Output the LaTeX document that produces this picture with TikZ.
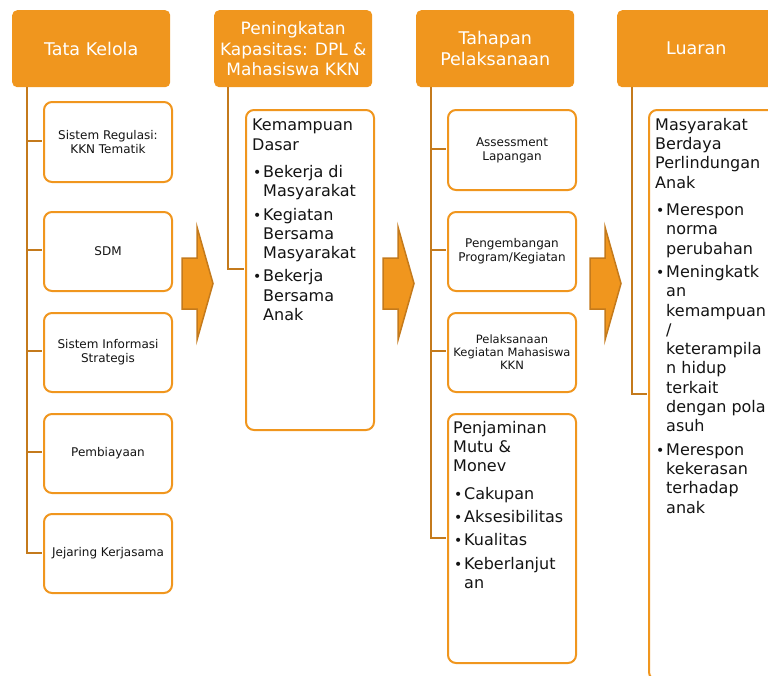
\documentclass[tikz,border=0pt]{standalone}
\usepackage{fontspec}
\setmainfont{DejaVu Sans}
\usepackage{tikz}

\definecolor{kknorange}{RGB}{240,150,30}
\definecolor{kknbrown}{RGB}{196,122,28}
\definecolor{kkntext}{RGB}{20,20,20}

\newcommand{\bul}{\makebox[11pt][l]{\hspace{1pt}\fontsize{14}{14}\selectfont\textbullet}}
\newcommand{\hang}{\hspace*{11pt}}

\tikzset{
  head/.style={rectangle, rounded corners=5pt, fill=kknorange, text=white, anchor=north west,
    minimum width=158pt, minimum height=77pt, inner sep=0pt, align=center,
    font=\fontsize{17.5}{21}\selectfont},
  itembox/.style={rectangle, rounded corners=8pt, draw=kknorange, line width=2pt, fill=white,
    anchor=north west, minimum width=128pt, inner sep=0pt, align=center, text=kkntext,
    font=\fontsize{12}{14}\selectfont},
  body/.style={anchor=north west, inner sep=0pt, align=left, text=kkntext,
    font=\fontsize{16}{19.3}\selectfont},
  link/.style={draw=kknbrown, line width=2.5pt},
  blockarrow/.style={fill=kknorange, draw=kknbrown, line width=1.5pt, line join=miter}
}

\begin{document}
\begin{tikzpicture}[x=1pt, y=-1pt]
        \useasboundingbox (0,0) rectangle (768,675);
        \clip (0,0) rectangle (768,675);

        % Headers
        \node[head] (h1) at (12,10) {Tata Kelola};
        \node[head, font=\fontsize{17}{20.5}\selectfont] (h2) at (214,10) {Peningkatan\\Kapasitas: DPL \&\\Mahasiswa KKN};
        \node[head] (h3) at (416,10) {Tahapan\\Pelaksanaan};
        \node[head] (h4) at (617,10) {Luaran};

        % Connectors
        \draw[link] ([xshift=15pt]h1.south west) |- (42,141);
        \draw[link] ([xshift=15pt]h1.south west) |- (42,250);
        \draw[link] ([xshift=15pt]h1.south west) |- (42,351);
        \draw[link] ([xshift=15pt]h1.south west) |- (42,452);
        \draw[link] ([xshift=15pt]h1.south west) |- (42,553);
        \draw[link] ([xshift=14pt]h2.south west) |- (244,269);
        \draw[link] ([xshift=15pt]h3.south west) |- (446,149);
        \draw[link] ([xshift=15pt]h3.south west) |- (446,250);
        \draw[link] ([xshift=15pt]h3.south west) |- (446,351);
        \draw[link] ([xshift=15pt]h3.south west) |- (446,538);
        \draw[link] ([xshift=15pt]h4.south west) |- (647,394);

        % Tata Kelola
        \node[itembox, minimum height=80pt] (b11) at (43,101) {Sistem Regulasi:\\KKN Tematik};
        \node[itembox, minimum height=79pt] (b12) at (43,211) {SDM};
        \node[itembox, minimum height=79pt] (b13) at (43,312) {Sistem Informasi\\Strategis};
        \node[itembox, minimum height=79pt] (b14) at (43,413) {Pembiayaan};
        \node[itembox, minimum height=79pt] (b15) at (43,513) {Jejaring Kerjasama};

        % Peningkatan Kapasitas
        \node[itembox, minimum height=320pt] (b21) at (245,109) {};
        \node[body] (t21) at (252,119) {Kemampuan\\Dasar\\[8pt]
          \bul Bekerja di\\\hang Masyarakat\\[4pt]
          \bul Kegiatan\\\hang Bersama\\\hang Masyarakat\\[4pt]
          \bul Bekerja\\\hang Bersama\\\hang Anak};

        % Tahapan Pelaksanaan
        \node[itembox, minimum height=80pt] (b31) at (447,109) {Assessment\\Lapangan};
        \node[itembox, minimum height=79pt] (b32) at (447,211) {Pengembangan\\Program/Kegiatan};
        \node[itembox, minimum height=79pt, font=\fontsize{11.5}{13}\selectfont] (b33) at (447,312) {Pelaksanaan\\Kegiatan Mahasiswa\\KKN};
        \node[itembox, minimum height=249pt] (b34) at (447,413) {};
        \node[body] (t34) at (453,421) {Penjaminan\\Mutu \&\\Monev\\[8pt]
          \bul Cakupan\\[4pt]
          \bul Aksesibilitas\\[4pt]
          \bul Kualitas\\[4pt]
          \bul Keberlanjut\\\hang an};

        % Luaran
        \node[itembox, minimum height=570pt] (b41) at (648,109) {};
        \node[body] (t41) at (655,118) {Masyarakat\\Berdaya\\Perlindungan\\Anak\\[8pt]
          \bul Merespon\\\hang norma\\\hang perubahan\\[4pt]
          \bul Meningkatk\\\hang an\\\hang kemampuan\\\hang /\\\hang keterampila\\\hang n hidup\\\hang terkait\\\hang dengan pola\\\hang asuh\\[4pt]
          \bul Merespon\\\hang kekerasan\\\hang terhadap\\\hang anak};

        % Arrows
        \filldraw[blockarrow] (182,258) -- (197,258) -- (197,227) -- (213,283.5) -- (197,340) -- (197,309) -- (182,309) -- cycle;
        \filldraw[blockarrow] (383,258) -- (398,258) -- (398,227) -- (414,283.5) -- (398,340) -- (398,309) -- (383,309) -- cycle;
        \filldraw[blockarrow] (590,258) -- (605,258) -- (605,227) -- (621,283.5) -- (605,340) -- (605,309) -- (590,309) -- cycle;

        \end{tikzpicture}
\end{document}
